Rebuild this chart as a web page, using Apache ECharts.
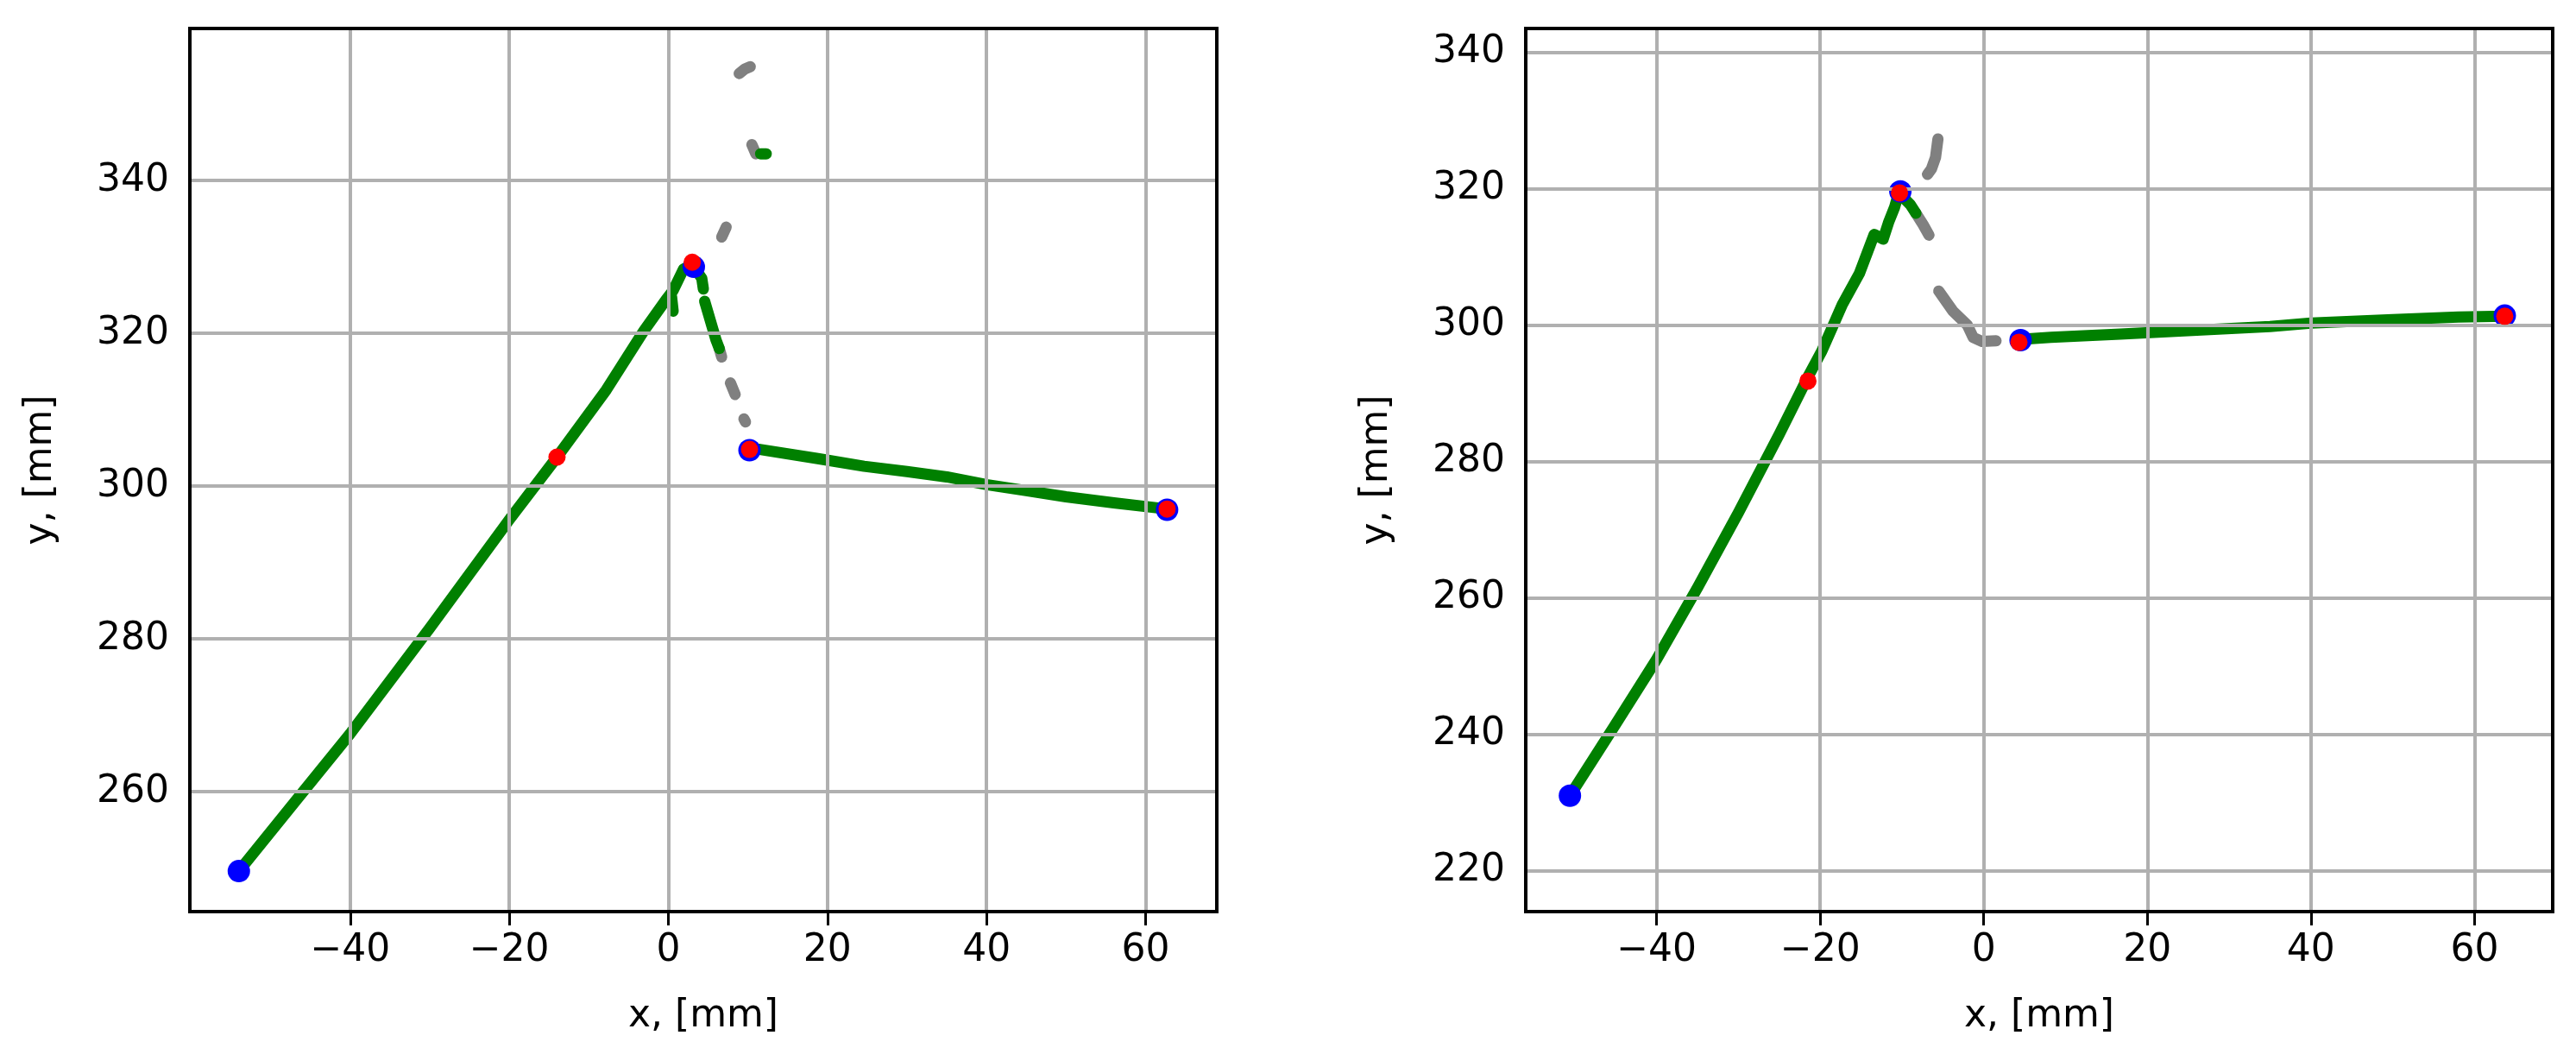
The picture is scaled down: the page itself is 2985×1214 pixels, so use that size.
<!DOCTYPE html>
<html><head><meta charset="utf-8">
<script src="https://cdn.jsdelivr.net/npm/echarts@6/dist/echarts.min.js"></script>
<style>html,body{margin:0;padding:0;background:#fff}#c{width:2985px;height:1214px}</style>
</head><body><div id="c"></div>
<script>
// ---- Left panel data ----
const L_green1 = [[-54,249.6],[-47,258.6],[-40,267.6],[-30,281.4],[-20,295.6],[-14,303.8],[-7.8,312.6],[-3.1,320.3],[-0.3,324.4],[0.6,325.6],[1.9,328.4],[3,329],[4.2,327.2],[4.4,325.8]];
const L_green2 = [[0.4,324.8],[0.6,322.9]];
const L_green3 = [[4.56,324.2],[6.0,319.1],[6.4,318.0]];
const L_green4 = [[10.2,304.8],[11.5,304.8],[18.8,303.6],[24.6,302.6],[30,301.9],[35,301.2],[40,300.2],[45,299.4],[50,298.6],[56,297.8],[62.7,297.0]];
const L_green5 = [[11.6,343.5],[12.3,343.5]];
const L_gray = [[8.9,354.0],[9.6,354.6],[10.3,354.9],null,[7.8,346.0],[7.85,346.0],null,[10.5,344.7],[11.0,343.5],null,[6.7,332.6],[7.27,333.9],null,[6.4,318.0],[6.7,316.9],null,[7.8,313.5],[8.4,312.0],null,[9.5,308.8],[9.7,308.4]];
const L_blue = [[-54,249.6],[3.2,328.7],[10.2,304.7],[62.7,296.9]];
const L_red = [[3.0,329.3],[-14,303.8],[10.2,304.8],[62.7,297.0]];
// ---- Right panel data ----
const R_green1 = [[-50.6,231],[-45,241.5],[-40,251],[-35,261.5],[-30,272.5],[-25,284],[-21.5,292.4],[-19.8,296.2],[-18.4,300.0],[-17.3,303.0],[-15.2,307.6],[-14.0,311.4],[-13.4,313.3],[-12.3,312.6],[-11.6,315.2],[-10.9,317.3],[-10.4,319.4],[-9.0,317.7],[-8.3,316.4]];
const R_green2 = [[4.3,297.9],[8.2,298.2],[16.7,298.7],[25,299.2],[35,299.8],[40,300.3],[50,300.8],[58,301.2],[63.7,301.3]];
const R_gray = [[-8.3,316.4],[-7.4,314.7],[-6.7,313.2],null,[-6.88,322.1],[-6.4,322.9],[-5.9,324.6],[-5.6,327.3],null,[-5.5,305.0],[-3.8,302.1],[-2.0,300.0],[-1.3,298.2],[-0.2,297.6],[1.5,297.7]];
const R_blue = [[-50.6,231],[-10.2,319.6],[4.5,297.8],[63.7,301.4]];
const R_red = [[-10.3,319.4],[-21.5,291.8],[4.3,297.5],[63.7,301.3]];
const xTicks = [-40,-20,0,20,40,60];
const yTicksL = [260,280,300,320,340];
const yTicksR = [220,240,260,280,300,320,340];

const F = 'DejaVu Sans';
function xa(i,min,max){return {gridIndex:i,type:'value',min,max,name:'x, [mm]',nameLocation:'middle',nameGap:100,
 nameTextStyle:{fontFamily:F,fontSize:44,color:'#000'},
 axisLine:{show:false},axisTick:{show:true,length:16,lineStyle:{color:'#000',width:3},customValues:xTicks},
 axisLabel:{fontFamily:F,fontSize:44,color:'#000',margin:24,customValues:xTicks,formatter:v=>v<0?'\u2212'+(-v):String(v)},
 splitLine:{show:false}};}
function ya(i,min,max,t){return {gridIndex:i,type:'value',min,max,name:'y, [mm]',nameLocation:'middle',nameGap:150,
 nameTextStyle:{fontFamily:F,fontSize:44,color:'#000'},
 axisLine:{show:false},axisTick:{show:true,length:16,lineStyle:{color:'#000',width:3},customValues:t},
 axisLabel:{fontFamily:F,fontSize:44,color:'#000',margin:24,customValues:t},
 splitLine:{show:false}};}
function gridLines(xi,yi,xs,ys,xr,yr){
 const d=[];xs.forEach(v=>d.push([{coord:[v,yr[0]]},{coord:[v,yr[1]]}]));ys.forEach(v=>d.push([{coord:[xr[0],v]},{coord:[xr[1],v]}]));
 return {type:'line',xAxisIndex:xi,yAxisIndex:yi,data:[],z:0,silent:true,
  markLine:{symbol:'none',silent:true,label:{show:false},lineStyle:{color:'#b0b0b0',width:4,type:'solid'},data:d}};}
function ln(d,c,i,z){return {type:'line',xAxisIndex:i,yAxisIndex:i,data:d,showSymbol:false,symbol:'none',connectNulls:false,z,
 lineStyle:{color:c,width:13,cap:'round',join:'round',opacity:1}};}
function sc(d,c,s,i,z){return {type:'scatter',xAxisIndex:i,yAxisIndex:i,data:d,symbolSize:s,itemStyle:{color:c,opacity:1},z};}
const LX=[-60.16,68.95],LY=[244.3,359.9],RX=[-56.0,69.56],RY=[214.0,343.5];
const opt={animation:false,
 grid:[{left:220,right:1575,top:33,bottom:158,show:true,borderColor:'#000',borderWidth:4,z:10},
       {left:1768,right:27,top:33,bottom:158,show:true,borderColor:'#000',borderWidth:4,z:10}],
 xAxis:[xa(0,LX[0],LX[1]),xa(1,RX[0],RX[1])],
 yAxis:[ya(0,LY[0],LY[1],yTicksL),ya(1,RY[0],RY[1],yTicksR)],
 series:[gridLines(0,0,xTicks,yTicksL,LX,LY),gridLines(1,1,xTicks,yTicksR,RX,RY),
  ln(L_gray,'#808080',0,2),ln(L_green1,'#008000',0,3),ln(L_green2,'#008000',0,3),ln(L_green3,'#008000',0,3),ln(L_green4,'#008000',0,3),ln(L_green5,'#008000',0,3),
  sc(L_blue,'#0000ff',26,0,4),sc(L_red,'#ff0000',20,0,5),
  ln(R_gray,'#808080',1,2),ln(R_green1,'#008000',1,3),ln(R_green2,'#008000',1,3),
  sc(R_blue,'#0000ff',26,1,4),sc(R_red,'#ff0000',20,1,5)]};
echarts.init(document.getElementById('c')).setOption(opt);
</script></body></html>
